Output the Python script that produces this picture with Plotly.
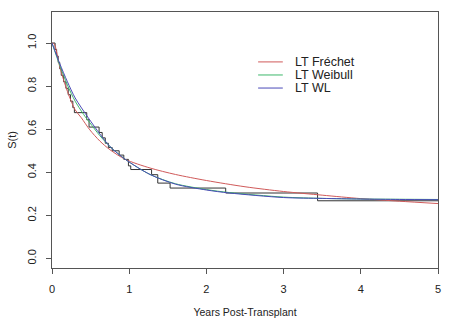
import plotly.graph_objects as go

# Kaplan-Meier step estimate
km_t = [0, 0.04, 0.06, 0.08, 0.10, 0.12, 0.15, 0.18, 0.21, 0.24, 0.27, 0.29, 0.45, 0.48,
        0.61, 0.65, 0.69, 0.73, 0.78, 0.87, 0.93, 0.99, 1.02, 1.29, 1.37, 1.53, 2.25, 3.44, 5.0]
km_s = [1.0, 0.97, 0.94, 0.91, 0.88, 0.85, 0.82, 0.79, 0.76, 0.73, 0.70, 0.677, 0.644, 0.61,
        0.585, 0.56, 0.535, 0.515, 0.50, 0.48, 0.46, 0.43, 0.413, 0.389, 0.35, 0.327, 0.304, 0.268, 0.268]

# Fitted curves
fr_t = [0, 0.03, 0.1, 0.2, 0.3, 0.38, 0.49, 0.62, 0.75, 0.95, 1.27, 1.6, 2.0, 2.5, 3.0, 3.5, 4.0, 4.5, 5.0]
fr_s = [1.0, 0.995, 0.89, 0.775, 0.69, 0.653, 0.597, 0.545, 0.505, 0.46, 0.42, 0.39, 0.362, 0.333, 0.311, 0.294, 0.278, 0.266, 0.255]

wb_t = [0, 0.1, 0.2, 0.3, 0.44, 0.49, 0.62, 0.75, 0.95, 1.27, 1.6, 2.0, 2.3, 3.0, 3.5, 4.0, 4.5, 5.0]
wb_s = [1.0, 0.897, 0.805, 0.73, 0.653, 0.63, 0.57, 0.52, 0.46, 0.39, 0.347, 0.32, 0.306, 0.285, 0.279, 0.276, 0.275, 0.274]

wl_t = [0, 0.1, 0.2, 0.3, 0.47, 0.62, 0.75, 0.95, 1.27, 1.6, 2.0, 2.3, 3.0, 3.5, 4.0, 4.5, 5.0]
wl_s = [1.0, 0.905, 0.82, 0.745, 0.653, 0.578, 0.52, 0.46, 0.39, 0.345, 0.318, 0.304, 0.283, 0.279, 0.276, 0.274, 0.273]

names = ["LT Fréchet", "LT Weibull", "LT WL"]
colors = ["#D05A5A", "#3DB86A", "#4A4AB8"]

x_ticks = [0, 1, 2, 3, 4, 5]
y_ticks = [0.0, 0.2, 0.4, 0.6, 0.8, 1.0]

fig = go.Figure()
fig.add_trace(go.Scatter(x=km_t, y=km_s, mode="lines", line=dict(color="#333333", width=1, shape="hv"),
                         showlegend=False, name="KM"))
for t, s, n, c in zip([fr_t, wb_t, wl_t], [fr_s, wb_s, wl_s], names, colors):
    fig.add_trace(go.Scatter(x=t, y=s, mode="lines", line=dict(color=c, width=1, shape="spline", smoothing=0.8),
                             name=n, showlegend=False))

# manual legend (R-style, no box)
leg_y = [0.805, 0.754, 0.703]
for n, c, yy in zip(names, colors, leg_y):
    fig.add_shape(type="line", xref="paper", yref="paper", x0=0.534, x1=0.598, y0=yy, y1=yy,
                  line=dict(color=c, width=1))
    fig.add_annotation(xref="paper", yref="paper", x=0.624, y=yy, text=n, showarrow=False,
                       xanchor="left", yanchor="middle", font=dict(size=12.5, color="#222"))

axis_common = dict(showline=True, linecolor="#555", linewidth=1, mirror=True, ticks="outside",
                   ticklen=5, tickcolor="#555", showgrid=False, zeroline=False, automargin=False,
                   tickfont=dict(size=11, color="#222"))

fig.update_xaxes(range=[0, 5], tickvals=x_ticks, ticktext=[str(v) for v in x_ticks],
                 title=dict(text="Years Post-Transplant", font=dict(size=10.5, color="#222"), standoff=14),
                 ticklabelstandoff=6, **axis_common)
fig.update_yaxes(range=[-0.044, 1.144], tickvals=y_ticks, ticktext=[f"{v:.1f}" for v in y_ticks],
                 tickangle=-90, ticklabelstandoff=6,
                 title=dict(text="S(t)", font=dict(size=11, color="#222"), standoff=6),
                 **axis_common)

fig.update_layout(width=453, height=325, margin=dict(l=52, r=15, t=12, b=57),
                  plot_bgcolor="white", paper_bgcolor="white",
                  font=dict(family="Liberation Sans, Arial, sans-serif", color="#222"))

fig.write_html("out.html")
